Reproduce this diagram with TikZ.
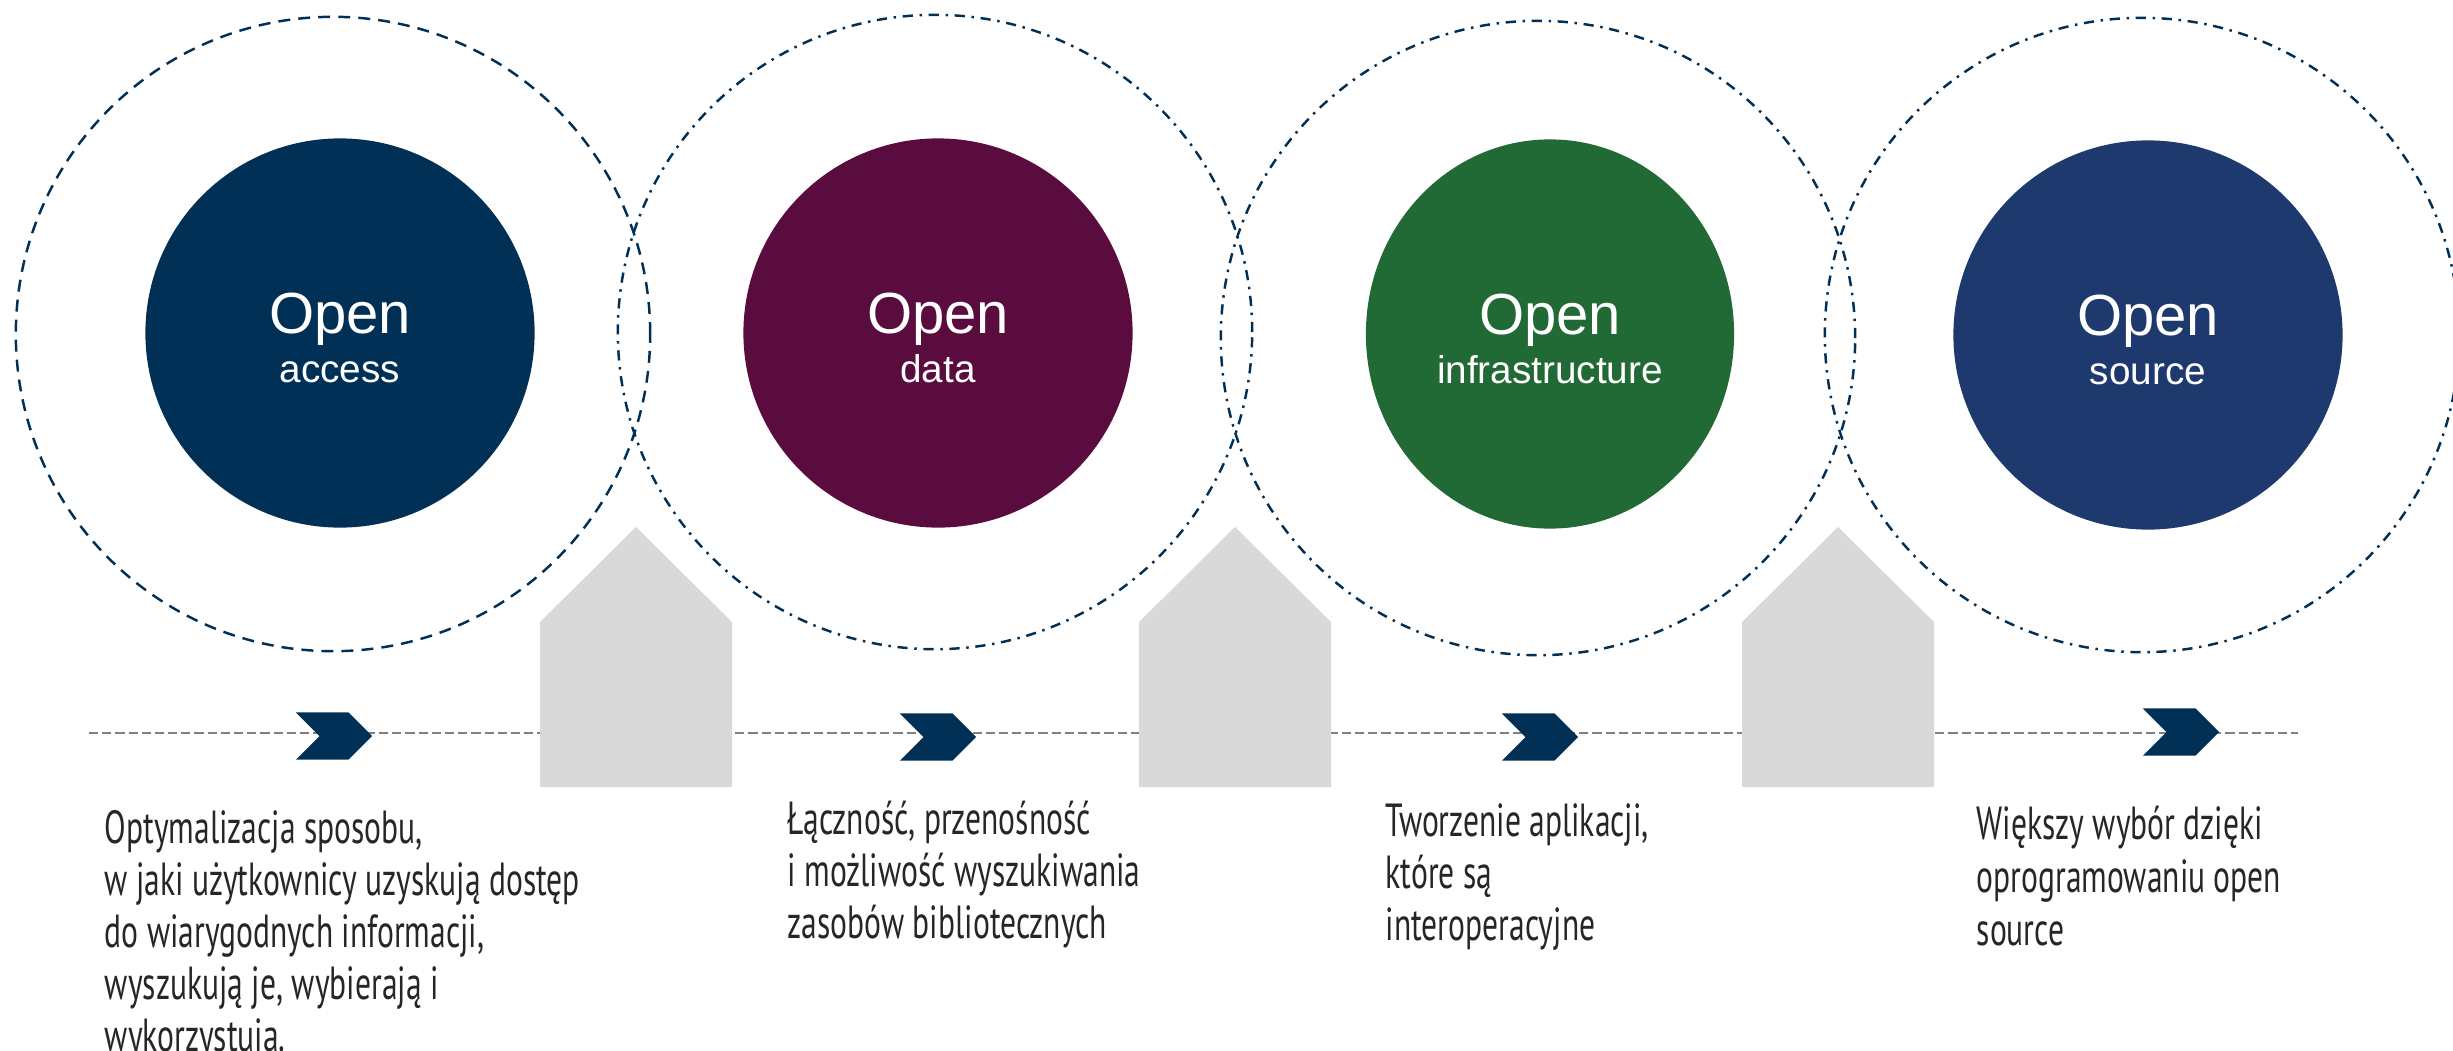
\documentclass[tikz,border=0pt]{standalone}
\usepackage{fontspec}
\setmainfont{Liberation Sans}
\newfontfamily\notefont[FakeStretch=0.68]{PT Sans}
\usetikzlibrary{shapes.geometric}
\usetikzlibrary{shapes.symbols}
\definecolor{accessblue}{HTML}{013057}
\definecolor{dataplum}{HTML}{5A0C3E}
\definecolor{infragreen}{HTML}{216935}
\definecolor{sourceblue}{HTML}{1D396D}
\definecolor{housegray}{HTML}{D9D9D9}
\definecolor{trackgray}{HTML}{808080}
\definecolor{notegray}{HTML}{262626}
\tikzstyle{ring} = [circle,
minimum size=6.34cm, inner sep=0pt,
draw=accessblue, line width=0.7pt]
\tikzstyle{ringdash} = [ring, dash pattern=on 3.4pt off 2.3pt]
\tikzstyle{ringdot} = [ring, dash pattern=on 2.9pt off 1.9pt on 0.7pt off 1.9pt]
\tikzstyle{core} = [circle, minimum size=3.89cm, inner sep=0pt]
\tikzstyle{coretext} = [inner sep=0pt, text=white, align=center,
font=\fontsize{16.5}{14}\selectfont]
\tikzstyle{chevron} = [signal, signal from=west, signal to=east,
signal pointer angle=90,
minimum width=0.76cm, minimum height=0.47cm,
inner sep=0pt, fill=accessblue]
\tikzstyle{track} = [draw=trackgray, line width=0.75pt, dash pattern=on 2.6pt off 1.15pt]
\tikzstyle{house} = [fill=housegray]
\tikzstyle{note} = [anchor=north west, inner sep=0pt, align=left, text=notegray]
\newcommand{\corelabel}[1]{{\fontsize{11}{13}\selectfont #1}}
\newcommand{\notesize}[2]{\notefont\fontsize{#1}{#2}\selectfont\lineskiplimit=-20pt\lineskip=0pt}

\begin{document}
\begin{tikzpicture}[x=0.01cm, y=-0.01cm] % one unit = one pixel
    \useasboundingbox (0,0) rectangle (2453,1051);

    % outer rings
    \node[ringdash] (ring1) at (333,334) {};
    \node[ringdot] (ring2) at (935,332) {};
    \node[ringdot] (ring3) at (1538,338) {};
    \node[ringdot] (ring4) at (2142,335) {};

    % filled circles
    \node[core, fill=accessblue] (access) at (340,333) {};
    \node[core, fill=dataplum] (data) at (938,333) {};
    \node[core, ellipse, minimum width=3.68cm, minimum height=3.89cm,
        fill=infragreen] (infra) at (1550,334) {};
    \node[core, fill=sourceblue] (source) at (2148,335) {};

    \node[coretext] (accesstext) at ([yshift=-1.5pt]access.center) {Open\\\corelabel{access}};
    \node[coretext] (datatext) at ([yshift=-1.5pt]data.center) {Open\\\corelabel{data}};
    \node[coretext] (infratext) at ([yshift=-1.5pt]infra.center) {Open\\\corelabel{infrastructure}};
    \node[coretext] (sourcetext) at ([yshift=-1.5pt]source.center) {Open\\\corelabel{source}};

    % timeline
    \coordinate (trackL) at (89,733);
    \coordinate (trackR) at (2298,733);
    \draw[track] (trackL) -- (trackR);

    % houses between the steps
    \foreach \hx in {540,1139,1742}
        \fill[house] (\hx,787) -- (\hx,622) -- ++(96,-95) -- (\hx+192,622) -- (\hx+192,787) -- cycle;

    % chevrons on the timeline
    \node[chevron] (chev1) at (334,736) {};
    \node[chevron] (chev2) at (938,737) {};
    \node[chevron] (chev3) at (1540,737) {};
    \node[chevron] (chev4) at (2181,732) {};

    % descriptions
    \node[note, font=\notesize{13.2}{14.8}] (note1) at (104,810)
        {Optymalizacja sposobu,\\w jaki użytkownicy uzyskują dostęp\\do wiarygodnych informacji,\\wyszukują je, wybierają i\\wykorzystują.};
    \node[note, font=\notesize{13.2}{14.8}] (note2) at (787,800)
        {Łączność, przenośność\\i możliwość wyszukiwania\\zasobów bibliotecznych};
    \node[note, font=\notesize{13.2}{14.8}] (note3) at (1385,803)
        {Tworzenie aplikacji,\\które są\\interoperacyjne};
    \node[note, font=\notesize{13.2}{15.1}] (note4) at (1976,805)
        {Większy wybór dzięki\\oprogramowaniu open\\source};
\end{tikzpicture}
\end{document}
